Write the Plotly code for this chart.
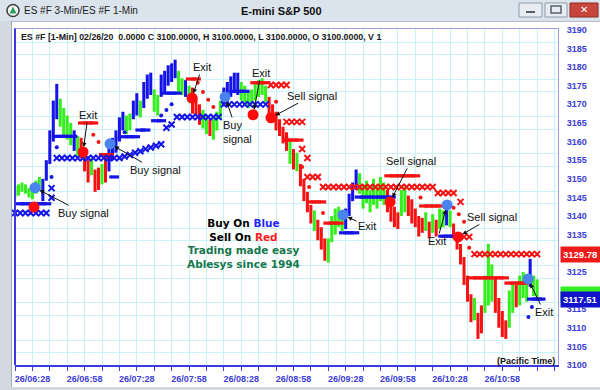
import plotly.graph_objects as go
from datetime import datetime, timedelta

# ---------------- data ----------------
START = datetime(2020, 2, 26, 6, 18)
END_MIN = 312
BAR_STEP_MIN = 2  # bars sampled every 2 minutes from START
TICK_TIMES = ["06:28", "06:58", "07:28", "07:58", "08:28", "08:58", "09:28", "09:58", "10:28", "10:58"]

BAR_LOW = [3145.0, 3145.5, 3146.5, 3146.0, 3145.0, 3144.5, 3146.0, 3147.0, 3144.0, 3149.5,
           3154.0, 3160.0, 3166.0, 3164.0, 3161.0, 3160.5, 3159.0, 3157.5, 3156.0, 3155.5,
           3152.0, 3149.0, 3151.0, 3146.5, 3147.0, 3148.5, 3149.0, 3152.0, 3155.0, 3157.0,
           3160.0, 3163.0, 3162.0, 3163.0, 3166.0, 3167.0, 3166.5, 3169.0, 3171.5, 3172.5,
           3168.0, 3167.0, 3172.0, 3173.0, 3175.0, 3176.0, 3177.0, 3173.0, 3172.5, 3172.0,
           3170.5, 3167.5, 3167.0, 3164.5, 3163.5, 3162.0, 3161.5, 3160.5, 3163.0, 3166.0,
           3169.5, 3170.0, 3172.0, 3173.0, 3172.5, 3171.0, 3169.5, 3169.0, 3170.0, 3171.0,
           3172.0, 3172.5, 3170.5, 3167.5, 3165.5, 3163.0, 3161.5, 3159.5, 3157.5, 3154.0,
           3152.5, 3152.0, 3148.0, 3144.0, 3141.0, 3138.0, 3136.0, 3133.5, 3131.0, 3128.0,
           3127.5, 3133.0, 3135.0, 3137.0, 3136.0, 3136.5, 3140.0, 3144.0, 3147.0, 3146.0,
           3142.0, 3143.5, 3141.0, 3143.0, 3142.0, 3144.0, 3143.0, 3141.0, 3138.5, 3137.0,
           3136.5, 3140.0, 3141.0, 3140.0, 3138.0, 3137.0, 3134.5, 3135.5, 3136.0, 3134.0,
           3135.5, 3134.5, 3136.5, 3137.0, 3137.5, 3137.0, 3134.0, 3131.0, 3127.0, 3121.5,
           3117.0, 3111.5, 3112.0, 3107.0, 3108.5, 3114.0, 3116.0, 3117.0, 3114.0, 3110.0,
           3107.5, 3107.0, 3110.0, 3114.0, 3115.5, 3116.0, 3118.0, 3117.0, 3121.0, 3118.5,
           3117.5]
BAR_HIGH = [3148.0, 3148.5, 3149.0, 3148.5, 3147.5, 3148.0, 3149.5, 3150.5, 3150.0, 3155.0,
            3163.0, 3171.0, 3175.5, 3171.5, 3169.0, 3167.0, 3165.0, 3163.0, 3161.5, 3161.0,
            3157.5, 3155.0, 3155.5, 3152.5, 3153.0, 3154.0, 3156.0, 3159.0, 3161.0, 3163.0,
            3166.5, 3168.0, 3167.0, 3167.5, 3171.0, 3173.0, 3171.0, 3176.0, 3178.0, 3178.5,
            3174.0, 3172.5, 3178.0, 3179.0, 3180.5, 3181.0, 3182.0, 3179.0, 3177.0, 3176.5,
            3175.0, 3174.5, 3172.0, 3170.0, 3168.5, 3167.0, 3166.0, 3166.0, 3168.0, 3171.0,
            3174.5, 3176.0, 3177.5, 3178.5, 3178.5, 3176.0, 3175.0, 3173.5, 3174.0, 3175.5,
            3176.5, 3177.0, 3175.0, 3172.0, 3170.0, 3168.0, 3166.0, 3164.0, 3162.5, 3160.0,
            3158.0, 3157.0, 3154.0, 3150.0, 3146.5, 3143.0, 3141.5, 3139.0, 3137.0, 3134.0,
            3134.0, 3140.0, 3142.0, 3142.5, 3141.0, 3142.0, 3146.0, 3149.0, 3152.5, 3151.5,
            3148.5, 3149.5, 3147.0, 3150.0, 3148.0, 3150.5, 3149.0, 3147.0, 3145.0, 3142.5,
            3141.0, 3147.0, 3148.0, 3145.5, 3144.5, 3142.0, 3140.0, 3139.5, 3141.0, 3138.5,
            3140.5, 3139.0, 3142.0, 3141.5, 3143.0, 3141.5, 3138.0, 3135.5, 3132.5, 3129.0,
            3124.0, 3119.0, 3118.0, 3114.0, 3116.0, 3124.0, 3132.5, 3127.0, 3123.5, 3118.0,
            3114.5, 3112.0, 3120.0, 3122.0, 3121.5, 3124.0, 3125.0, 3123.0, 3128.5, 3124.0,
            3123.0]
BAR_COLOR = list("GGGGGGGGBBBBBGGGGBGRRRGRRGRBBBBBGGBBGBBBGGBBBBBGGBGRRRGGRGGGBBBBBGGGGGGGGRRRRRRGRGRRRRGRRRGGGGGBBBBGGGGGGGGRRRRGGRRRRRGRGRGGBGRRRRRRGRRGGGRRRRGGRGGGBGG")

# indicator marks on the 3-minute series (minutes after START, price)
BLUE_X_MIN = [0, 3, 6, 9, 12, 15, 18, 21, 21,
              24, 27, 30, 33, 36, 39, 42, 45, 48, 51, 54, 57, 60,
              63, 66, 69, 72, 75, 78, 81, 84,
              87, 90, 93, 96, 99, 102, 105, 108, 111, 114, 117,
              120, 123, 126, 129, 132, 135, 138, 141, 144]
BLUE_X_VAL = [3140.8, 3140.8, 3140.8, 3140.8, 3140.8, 3140.8, 3140.8, 3144.9, 3147.5,
              3155.6, 3155.6, 3155.6, 3155.6, 3155.6, 3155.6, 3155.6, 3155.6, 3155.6, 3155.6, 3155.6, 3155.6, 3155.6,
              3156.0, 3156.4, 3157.0, 3157.4, 3158.0, 3158.4, 3158.9, 3159.3,
              3163.7, 3164.6, 3166.6, 3166.6, 3166.6, 3166.6, 3166.6, 3166.6, 3166.6, 3166.6, 3166.6,
              3170.0, 3170.0, 3170.0, 3170.0, 3170.0, 3170.0, 3170.0, 3170.0, 3170.0]

RED_X_MIN = [147, 150, 153, 156,
             156, 159, 162, 165,
             165, 168,
             168, 171, 174,
             177, 180, 183, 186, 189, 192, 195, 198, 201, 204, 207, 210, 213, 216, 219, 222,
             225, 228, 231, 234, 237, 240,
             243, 246, 249, 252, 256,
             258, 261,
             264, 267, 270, 273, 276, 279, 282, 285, 288, 291, 294, 297, 300]
RED_X_VAL = [3175.2, 3175.2, 3175.2, 3175.2,
             3165.3, 3165.3, 3165.3, 3165.3,
             3158.0, 3155.6,
             3150.5, 3150.5, 3150.5,
             3147.8, 3147.8, 3147.8, 3147.8, 3147.8, 3147.8, 3147.8, 3147.8, 3147.8, 3147.8, 3147.8,
             3147.8, 3147.8, 3147.8, 3147.8, 3147.8,
             3147.8, 3147.8, 3147.8, 3147.8, 3147.8, 3147.8,
             3146.2, 3146.2, 3146.2, 3146.2, 3143.8,
             3134.4, 3134.4,
             3129.78, 3129.78, 3129.78, 3129.78, 3129.78, 3129.78, 3129.78, 3129.78, 3129.78,
             3129.78, 3129.78, 3129.78, 3129.78]

BLUE_DOT_MIN = [21, 24, 60, 63, 84, 87, 90, 295, 297]
BLUE_DOT_VAL = [3150.5, 3158.5, 3161.0, 3162.5, 3167.0, 3168.5, 3170.0, 3112.9, 3115.6]

RED_DOT_MIN = [45, 48, 105, 108, 111, 114, 150, 156, 165, 169, 177, 233, 252, 255, 258, 261]
RED_DOT_VAL = [3161.8, 3159.9, 3175.8, 3173.3, 3171.2, 3169.3, 3170.7, 3161.0, 3153.2, 3147.8,
               3140.8, 3145.0, 3142.2, 3140.5, 3138.5, 3131.5]

BLUE_DASH_MIN = [3, 6, 9, 12, 15, 18, 24, 27, 30, 33, 57, 63, 66, 69, 72, 75, 81, 84, 87, 90, 93,
                 126, 129, 132, 189, 192, 195, 198, 201, 204, 207, 210, 213, 216,
                 246, 249, 252, 297, 300, 302]
BLUE_DASH_VAL = [3143.3, 3143.3, 3143.3, 3143.3, 3143.3, 3143.3, 3161.4, 3161.4, 3161.4, 3161.4,
                 3150.5, 3161.3, 3161.3, 3161.3, 3163.1, 3163.1, 3165.6, 3165.6, 3173.0, 3173.0, 3173.0,
                 3173.5, 3173.5, 3173.5, 3135.5, 3135.5, 3135.5,
                 3145.1, 3145.1, 3145.1, 3145.1, 3145.1, 3145.1, 3145.1,
                 3134.6, 3134.6, 3134.6, 3117.7, 3117.7, 3117.7]

RED_DASH_MIN = [39, 42, 45, 51, 54, 101, 104, 138, 141, 144, 157, 160, 163, 170, 173, 176,
                180, 183, 186, 215, 218, 221, 224, 227, 230, 235, 238, 241, 244,
                263, 266, 269, 272, 275, 278, 281, 284, 287, 290, 293]
RED_DASH_VAL = [3165.0, 3165.0, 3165.0, 3156.5, 3156.5, 3176.8, 3176.8, 3175.8, 3175.8, 3175.8,
                3160.4, 3160.4, 3160.4, 3143.8, 3143.8, 3143.8, 3138.1, 3138.1, 3138.1,
                3150.8, 3150.8, 3150.8, 3150.8, 3150.8, 3150.8, 3142.7, 3142.7, 3142.7, 3142.7,
                3123.4, 3123.4, 3123.4, 3123.4, 3123.4, 3123.4, 3123.4, 3122.0, 3122.0, 3122.0, 3122.0]

BUY_MIN = [11.5, 54.6, 120.7, 188.5, 248.3, 294.8]
BUY_VAL = [3147.6, 3159.4, 3172.0, 3140.3, 3143.0, 3123.1]
BUY_TEXT = ["Buy signal", "Buy signal", "Buy<br>signal", "Exit", "Exit", "Exit"]
BUY_OFFSET = [(48, 25), (45, 26), (12, 35), (24, 11), (-10, 36), (16, 33)]

SELL_MIN = [10.9, 39.1, 101.7, 136.8, 147.1, 215.5, 254.6]
SELL_VAL = [3142.4, 3157.2, 3171.7, 3167.2, 3166.4, 3143.8, 3134.4]
SELL_TEXT = [None, "Exit", "Exit", "Exit", "Sell signal", "Sell signal", "Sell signal"]
SELL_OFFSET = [None, (5, -37), (10, -31), (8, -42), (41, -22), (21, -41), (34, -20)]

LAST_RED = 3129.78
LAST_GREEN = 3118.80
LAST_BLUE = 3117.51

# ---------------- styling ----------------
GREEN = "#35ee1e"
RED = "#f51212"
BLUE = "#1414e8"
CIRCLE_BLUE = "#4a82ee"
CIRCLE_RED = "#ff0d0d"
GRID = "#c9f1f7"
AX_BLUE = "#3a3ae0"
LAB_BLUE = "#3c3cd6"
FONT = "Liberation Sans, Arial, sans-serif"
COLOR_MAP = {"G": GREEN, "R": RED, "B": BLUE}

W, H = 600, 390
ML, MR, MT, MB = 15, 42, 28, 25
PW, PH = W - ML - MR, H - MT - MB


def t(m):
    return START + timedelta(minutes=m)


def px(xp):
    return (xp - ML) / PW


def py(yp):
    return (H - MB - yp) / PH


fig = go.Figure()

bar_x = [t(i * BAR_STEP_MIN) for i in range(len(BAR_LOW))]
fig.add_trace(go.Bar(
    x=bar_x, base=BAR_LOW, y=[h - l for h, l in zip(BAR_HIGH, BAR_LOW)],
    width=1.75 * 60000, marker=dict(color=[COLOR_MAP[c] for c in BAR_COLOR], line=dict(width=0)),
    hoverinfo="skip"))


def marks(mins, vals, **marker):
    fig.add_trace(go.Scatter(x=[t(m) for m in mins], y=vals, mode="markers",
                             marker=marker, hoverinfo="skip", cliponaxis=False))


marks(BLUE_DASH_MIN, BLUE_DASH_VAL, symbol="line-ew", size=7, color=BLUE, line=dict(width=3.2, color=BLUE))
marks(RED_DASH_MIN, RED_DASH_VAL, symbol="line-ew", size=7, color=RED, line=dict(width=3.2, color=RED))
marks(BLUE_DOT_MIN, BLUE_DOT_VAL, symbol="circle", size=4, color=BLUE)
marks(RED_DOT_MIN, RED_DOT_VAL, symbol="circle", size=4, color=RED)
marks(BLUE_X_MIN, BLUE_X_VAL, symbol="x-thin", size=6, color=BLUE, line=dict(width=2, color=BLUE))
marks(RED_X_MIN, RED_X_VAL, symbol="x-thin", size=6, color=RED, line=dict(width=2, color=RED))
marks(BUY_MIN, BUY_VAL, symbol="circle", size=11, color=CIRCLE_BLUE)
marks(SELL_MIN, SELL_VAL, symbol="circle", size=11, color=CIRCLE_RED)

ann = []
for m, v, txt, off in list(zip(BUY_MIN, BUY_VAL, BUY_TEXT, BUY_OFFSET)) + \
        list(zip(SELL_MIN, SELL_VAL, SELL_TEXT, SELL_OFFSET)):
    if txt is None:
        continue
    ann.append(dict(x=t(m), y=v, xref="x", yref="y", text=txt, showarrow=True,
                    ax=off[0], ay=off[1], axref="pixel", ayref="pixel",
                    arrowhead=2, arrowsize=0.9, arrowwidth=1, arrowcolor="#111111", standoff=5,
                    font=dict(family=FONT, size=11, color="#111111"), align="left"))

# central promo text
ann.append(dict(xref="paper", yref="paper", x=px(185), y=py(272), showarrow=False,
                text=("<b>Buy On <span style='color:#2323ff'>Blue</span></b><br>"
                      "<b>Sell On <span style='color:#ff1a1a'>Red</span></b><br>"
                      "<span style='color:#16784c'><b>Trading made easy</b></span><br>"
                      "<span style='color:#16784c'><b>Ablesys since 1994</b></span>"),
                font=dict(family="DejaVu Sans, Verdana, sans-serif", size=10.5, color="#000000"),
                align="center"))
ann.append(dict(xref="paper", yref="paper", x=px(557), y=py(361), xanchor="right", yanchor="middle",
                showarrow=False, text="<b>(Pacific Time)</b>",
                font=dict(family=FONT, size=9, color="#111111")))
ann.append(dict(xref="paper", yref="paper", x=px(19), y=py(37), xanchor="left", yanchor="middle",
                showarrow=False,
                text="<b>ES #F [1-Min] 02/26/20  0.0000 C 3100.0000, H 3100.0000, L 3100.0000, O 3100.0000, V 1</b>",
                font=dict(family=FONT, size=8.8, color="#1a1a1a")))

# last-price boxes on the right axis
for val, bg in [(LAST_RED, "#ee1b1b"), (LAST_GREEN, "#33ee22"), (LAST_BLUE, "#1212cc")]:
    ann.append(dict(xref="paper", yref="y", x=1, y=val, xanchor="left", yanchor="middle", xshift=2,
                    showarrow=False, text=f"<b>{val:.2f}</b>", bgcolor=bg, borderpad=2,
                    font=dict(family=FONT, size=9.5, color="#ffffff"), width=44, align="left"))

# window chrome
ann.append(dict(xref="paper", yref="paper", x=px(22), y=py(11), xanchor="left", yanchor="middle",
                showarrow=False, text="ES #F 3-Min/ES #F 1-Min",
                font=dict(family=FONT, size=10, color="#1c1c1c")))
ann.append(dict(xref="paper", yref="paper", x=px(281), y=py(11), xanchor="center", yanchor="middle",
                showarrow=False, text="<b>E-mini S&P 500</b>",
                font=dict(family=FONT, size=11, color="#111111")))
ann.append(dict(xref="paper", yref="paper", x=px(584), y=py(10), xanchor="center", yanchor="middle",
                showarrow=False, text="<b>✕</b>", font=dict(family="DejaVu Sans", size=10, color="#ffffff")))

shapes = []


def rect(x0, y0, x1, y1, fill, line=None, lw=0):
    shapes.append(dict(type="rect", xref="paper", yref="paper", x0=px(x0), x1=px(x1), y0=py(y0), y1=py(y1),
                       fillcolor=fill, line=dict(color=line or fill, width=lw), layer="above"))


def seg(x0, y0, x1, y1, color, lw):
    shapes.append(dict(type="line", xref="paper", yref="paper", x0=px(x0), x1=px(x1), y0=py(y0), y1=py(y1),
                       line=dict(color=color, width=lw), layer="above"))


rect(0, 0, 600, 21, "#dbe3ec")
seg(0, 21.5, 600, 21.5, "#b4bcc6", 1)
rect(0, 21, 11, 390, "#d3d9e0")
seg(11.5, 21, 11.5, 390, "#a3abb5", 1)
rect(0, 387, 600, 390, "#d3d9e0")
# window buttons
rect(519, 3, 542, 17, "#e8edf3", "#8e9aa8", 1)
seg(526, 12, 535, 12, "#55606c", 2)
rect(545, 3, 567, 17, "#e8edf3", "#8e9aa8", 1)
rect(551, 6, 561, 13, "rgba(0,0,0,0)", "#55606c", 1.5)
rect(570, 3, 598, 17, "#c8463c", "#8a2a24", 1)
# icon
shapes.append(dict(type="circle", xref="paper", yref="paper", x0=px(7), x1=px(19), y0=py(4.5), y1=py(16.5),
                   fillcolor="#f4f4f4", line=dict(color="#3e3e3e", width=1.5), layer="above"))
shapes.append(dict(type="path", xref="paper", yref="paper",
                   path=f"M {px(13)} {py(6.5)} L {px(16.5)} {py(13.5)} L {px(9.5)} {py(13.5)} Z",
                   fillcolor="#2ea05a", line=dict(width=0), layer="above"))
# plot frame
seg(ML, MT, ML, H - MB, AX_BLUE, 2)
seg(ML, MT + 0.5, W - MR, MT + 0.5, "#9a9ad8", 1)

tick_vals = [datetime.strptime("2020-02-26 " + s, "%Y-%m-%d %H:%M") for s in TICK_TIMES]

fig.update_layout(
    width=W, height=H, margin=dict(l=ML, r=MR, t=MT, b=MB, autoexpand=False),
    paper_bgcolor="white", plot_bgcolor="white", showlegend=False, barmode="overlay",
    annotations=ann, shapes=shapes,
    xaxis=dict(type="date", range=[t(0), t(END_MIN)], tickmode="array", tickvals=tick_vals,
               tickformat="%d/%H:%M", ticks="outside", ticklen=4, tickcolor=AX_BLUE, tickwidth=1,
               showline=True, linecolor=AX_BLUE, linewidth=2, showgrid=True, gridcolor=GRID, gridwidth=1,
               tickfont=dict(family=FONT, size=9, color=LAB_BLUE, weight="bold"), zeroline=False,
               minor=dict(dtick=10 * 60000, tick0=t(0), ticks="outside", ticklen=4, tickcolor=AX_BLUE,
                          showgrid=True, gridcolor=GRID, gridwidth=1),
               automargin=False, fixedrange=True),
    yaxis=dict(side="right", range=[3100, 3190.5], tick0=3100, dtick=5, showgrid=False,
               minor=dict(tick0=3100, dtick=10 / 3, showgrid=True, gridcolor=GRID, gridwidth=1),
               showline=True, linecolor="#a2a2e6", linewidth=1, ticks="outside", ticklen=6,
               tickcolor="rgba(0,0,0,0)", zeroline=False,
               tickfont=dict(family=FONT, size=9, color=LAB_BLUE, weight="bold"),
               automargin=False, fixedrange=True),
)

fig.write_html("out.html", config={"displayModeBar": False},
               post_script="document.body.style.margin='0';document.body.style.overflow='hidden';")
